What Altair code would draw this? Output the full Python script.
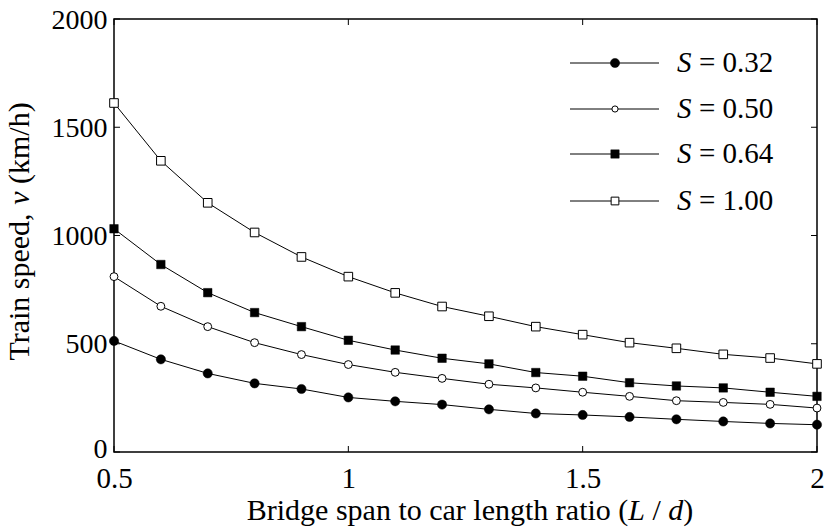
import altair as alt
import pandas as pd

# L/d ratios and train speeds (km/h) for each S value
ratio = [0.5, 0.6, 0.7, 0.8, 0.9, 1.0, 1.1, 1.2, 1.3, 1.4, 1.5, 1.6, 1.7, 1.8, 1.9, 2.0]
speed_032 = [513, 428, 363, 317, 291, 252, 234, 219, 197, 178, 171, 162, 151, 141, 132, 126]
speed_050 = [810, 673, 579, 505, 450, 404, 368, 340, 313, 296, 276, 257, 237, 229, 220, 203]
speed_064 = [1031, 866, 736, 644, 579, 516, 471, 433, 407, 367, 350, 320, 305, 296, 276, 257]
speed_100 = [1612, 1345, 1151, 1014, 901, 810, 735, 672, 627, 579, 542, 505, 479, 451, 434, 407]

series_labels = ["0.32", "0.50", "0.64", "1.00"]
x_ticks = [0.5, 1, 1.5, 2]
y_ticks = [0, 500, 1000, 1500, 2000]

FONT = "Liberation Serif"
W, H = 703, 433

rows = []
for lab, vals in zip(series_labels, [speed_032, speed_050, speed_064, speed_100]):
    for r, v in zip(ratio, vals):
        rows.append({"ratio": r, "speed": v, "series": lab})
df = pd.DataFrame(rows)

xs = alt.Scale(domain=[0.5, 2], nice=False, zero=False)
ys = alt.Scale(domain=[0, 2000], nice=False)

x_axis = alt.Axis(values=x_ticks, format="~g", title=None, grid=False, domain=False,
                  ticks=False, tickSize=0, labelPadding=12, labelFlush=False,
                  labelFont=FONT, labelFontSize=29, labelColor="black", labelOverlap=False)
y_axis = alt.Axis(values=y_ticks, format="d", title=None, grid=False, domain=False,
                  ticks=False, tickSize=0, labelPadding=7, labelBaseline="middle",
                  labelOffset={"condition": {"test": "datum.value == 0", "value": -3}, "value": 1},
                  labelFont=FONT, labelFontSize=28, labelColor="black", labelOverlap=False)

lines = alt.Chart(df).mark_line(color="black", strokeWidth=1).encode(
    x=alt.X("ratio:Q", scale=xs, axis=x_axis),
    y=alt.Y("speed:Q", scale=ys, axis=y_axis),
    detail="series:N",
)

# marker style per series: (shape, filled, size)
styles = {
    "0.32": ("circle", True, 85),
    "0.50": ("circle", False, 62),
    "0.64": ("square", True, 72),
    "1.00": ("square", False, 74),
}


def point_mark(shape, filled, size):
    if filled:
        return dict(shape=shape, filled=True, fill="black", stroke="black",
                    strokeWidth=0.5, size=size, opacity=1)
    return dict(shape=shape, filled=True, fill="white", stroke="black",
                strokeWidth=1, size=size, opacity=1)


point_layers = []
for lab in series_labels:
    shape, filled, size = styles[lab]
    point_layers.append(
        alt.Chart(df).transform_filter(alt.datum.series == lab)
        .mark_point(**point_mark(shape, filled, size))
        .encode(x=alt.X("ratio:Q", scale=xs),
                y=alt.Y("speed:Q", scale=ys))
    )

# inward tick marks on all four sides of the frame
xt = pd.DataFrame({"ratio": x_ticks})
yt = pd.DataFrame({"speed": y_ticks})
tick_layers = [
    alt.Chart(xt).mark_rule(color="black", strokeWidth=1).encode(
        x=alt.X("ratio:Q", scale=xs), y=alt.value(H), y2=alt.value(H - 6)),
    alt.Chart(xt).mark_rule(color="black", strokeWidth=1).encode(
        x=alt.X("ratio:Q", scale=xs), y=alt.value(0), y2=alt.value(6)),
    alt.Chart(yt).mark_rule(color="black", strokeWidth=1).encode(
        y=alt.Y("speed:Q", scale=ys), x=alt.value(0), x2=alt.value(6)),
    alt.Chart(yt).mark_rule(color="black", strokeWidth=1).encode(
        y=alt.Y("speed:Q", scale=ys), x=alt.value(W), x2=alt.value(W - 6)),
]


def text_piece(s, x, y, italic=False, size=30, align="left", baseline="alphabetic", angle=0):
    kw = dict(font=FONT, fontSize=size, align=align, baseline=baseline, color="black")
    if italic:
        kw["fontStyle"] = "italic"
    if angle:
        kw["angle"] = angle
    return alt.Chart(pd.DataFrame({"t": [s]})).mark_text(**kw).encode(
        x=alt.value(x), y=alt.value(y), text="t:N")


# x-axis title: Bridge span to car length ratio (L / d)
xt_y = 501
title_layers = [
    text_piece("Bridge span to car length ratio (", 514.3, xt_y, align="right"),
    text_piece("L", 514.3, xt_y, italic=True),
    text_piece("/", 538.5, xt_y),
    text_piece("d", 554.3, xt_y, italic=True),
    text_piece(")", 569.3, xt_y),
]
# y-axis title: Train speed, v (km/h)
yt_x = -85
title_layers += [
    text_piece("Train speed,", yt_x, 341.6, angle=270),
    text_piece("v", yt_x, 185.8, italic=True, angle=270),
    text_piece("(km/h)", yt_x, 165.0, angle=270),
]

# legend
legend_layers = []
row_y = [44, 90, 135, 182]
legend_sizes = {"0.32": 85, "0.50": 38, "0.64": 70, "1.00": 60}
for lab, ry in zip(series_labels, row_y):
    shape, filled, _ = styles[lab]
    one = pd.DataFrame({"label": ["= " + lab]})
    legend_layers.append(
        alt.Chart(one).mark_rule(color="black", strokeWidth=1).encode(
            x=alt.value(456), x2=alt.value(545), y=alt.value(ry)))
    legend_layers.append(
        alt.Chart(one).mark_point(**point_mark(shape, filled, legend_sizes[lab])).encode(
            x=alt.value(501), y=alt.value(ry)))
    legend_layers.append(text_piece("S", 563, ry, italic=True, size=29, baseline="middle"))
    legend_layers.append(
        alt.Chart(one).mark_text(font=FONT, fontSize=29, align="left", baseline="middle",
                                 color="black").encode(
            x=alt.value(585), y=alt.value(ry), text="label:N"))

chart = alt.layer(lines, *tick_layers, *point_layers, *title_layers, *legend_layers).properties(
    width=W, height=H,
    autosize=alt.AutoSizeParams(type="none"),
    padding={"left": 114, "top": 19, "right": 7, "bottom": 75},
    background="white",
).configure_view(stroke="black", strokeWidth=1.5)

chart.save("out.html", embed_options={"renderer": "svg", "actions": False})
